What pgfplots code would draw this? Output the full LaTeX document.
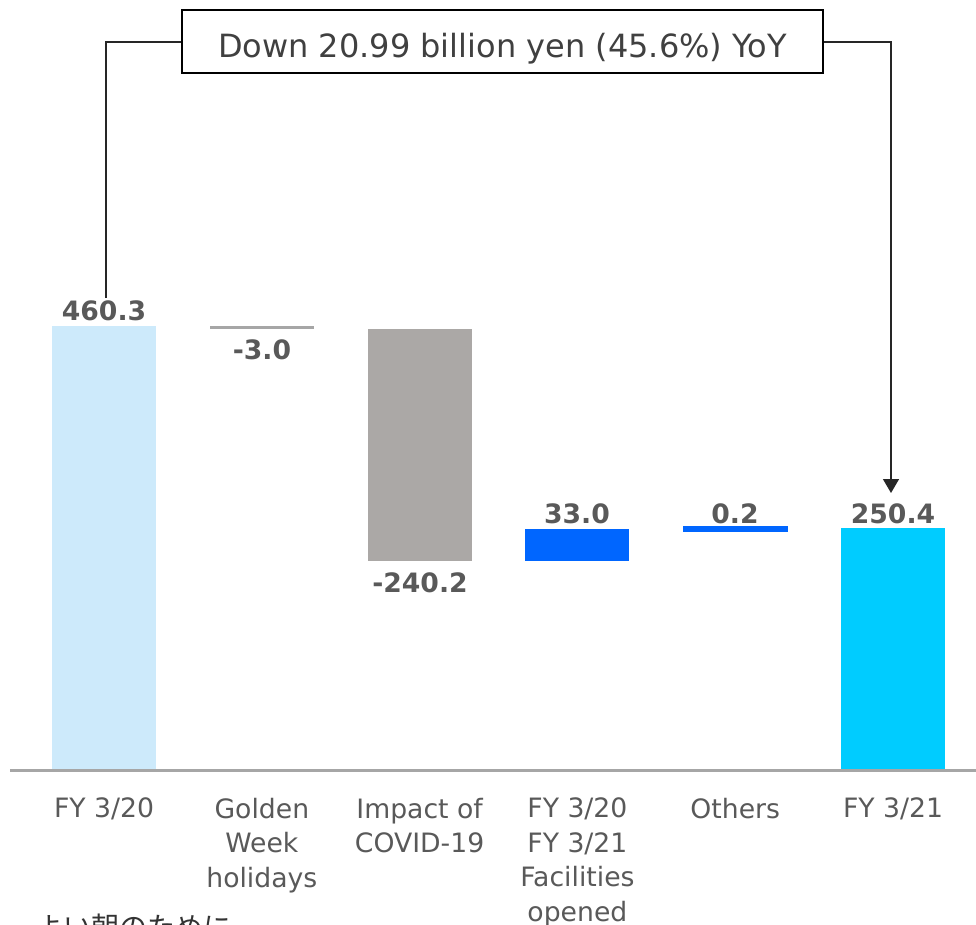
\documentclass[border=0pt]{standalone}
\usepackage{fontspec}
\setmainfont{DejaVu Sans}
\newfontfamily\cjk{Noto Sans CJK JP}
\usepackage{pgfplots}
\pgfplotsset{compat=1.18}
\usetikzlibrary{arrows.meta}
\definecolor{lightbar}{RGB}{205,234,251}
\definecolor{thingray}{RGB}{166,166,166}
\definecolor{covidgray}{RGB}{171,168,166}
\definecolor{barblue}{RGB}{0,102,255}
\definecolor{barcyan}{RGB}{0,204,255}
\definecolor{axisgray}{RGB}{166,166,166}
\definecolor{labelgray}{RGB}{89,89,89}
\definecolor{valgray}{RGB}{89,89,89}
\definecolor{boxtext}{RGB}{64,64,64}
\pgfplotsset{
  wfbase/.style={
    at={(7.5pt,-577.5pt)}, anchor=south west,
    scale only axis, width=724.5pt, height=577.5pt,
    xmin=-0.596, xmax=5.526, ymin=0, ymax=798.25,
    ybar stacked, bar width=78pt, clip=false,
  }
}
\begin{document}
\begin{tikzpicture}
\clip (0,0) rectangle (732pt,-693.75pt);
\begin{axis}[
  wfbase,
  axis x line=bottom, axis y line=none,
  x axis line style={-, line width=2.25pt, draw=axisgray},
  axis on top,
  xtick={0,1,2,3,4,5},
  xticklabels={FY 3/20, {Golden\\Week\\holidays}, {Impact of\\COVID-19}, {FY 3/20\\FY 3/21\\Facilities\\opened}, Others, FY 3/21},
  xtick style={draw=none},
  xticklabel style={align=center, font=\fontsize{20}{25.9}\selectfont, text=labelgray, inner sep=0pt, anchor=north, yshift=-18.5pt},
]
% invisible base
\addplot[fill=none, draw=none, forget plot] coordinates {(0,0) (1,457.3) (2,217.1) (3,217.1) (4,250.1) (5,0)};
% FY 3/20
\addplot[fill=lightbar, draw=none] coordinates {(0,460.3) (1,0) (2,0) (3,0) (4,0) (5,0)};
% Golden Week holidays
\addplot[fill=thingray, draw=none] coordinates {(0,0) (1,3.0) (2,0) (3,0) (4,0) (5,0)};
% Impact of COVID-19
\addplot[fill=covidgray, draw=none] coordinates {(0,0) (1,0) (2,240.2) (3,0) (4,0) (5,0)};
% Facilities opened
\addplot[fill=barblue, draw=none] coordinates {(0,0) (1,0) (2,0) (3,33.0) (4,0) (5,0)};
% FY 3/21
\addplot[fill=barcyan, draw=none] coordinates {(0,0) (1,0) (2,0) (3,0) (4,0) (5,250.4)};
\end{axis}
% Others: its own stack (same axis geometry)
\begin{axis}[wfbase, hide axis, bar width=74.25pt]
\addplot[fill=none, draw=none, forget plot] coordinates {(4,250.1)};
\addplot[fill=barblue, draw=barblue, line width=4.2pt] coordinates {(4,0.2)};
\end{axis}
\begin{scope}[x=0.75pt, y=-0.75pt]
  % value labels
  \begin{scope}[every node/.style={font=\bfseries\fontsize{20}{24}\selectfont, text=valgray, inner sep=0pt, anchor=base}]
    \node at (104,320) {460.3};
    \node at (262,359) {-3.0};
    \node at (420,592) {-240.2};
    \node at (577,523) {33.0};
    \node at (735,523) {0.2};
    \node at (893,523) {250.4};
  \end{scope}
  % bracket
  \draw[line width=1.1pt, draw=black!85] (106,298) -- (106,42) -- (182,42);
  \draw[line width=1.1pt, draw=black!85, -{Triangle[width=12pt,length=10.5pt]}] (823,42) -- (891,42) -- (891,493);
  \draw[line width=1.5pt, fill=white] (182,10) rectangle (823,73);
  \node[font=\fontsize{24}{28}\selectfont, text=boxtext, inner sep=0pt, anchor=base] at (502.5,57) {Down 20.99 billion yen (45.6\%) YoY};
  % Japanese slogan (cut off at the bottom)
  \node[font=\cjk\fontsize{21}{25}\selectfont, text=black!80, inner sep=0pt, anchor=base west] at (35,937) {よい朝のために。};
\end{scope}
\end{tikzpicture}
\end{document}
